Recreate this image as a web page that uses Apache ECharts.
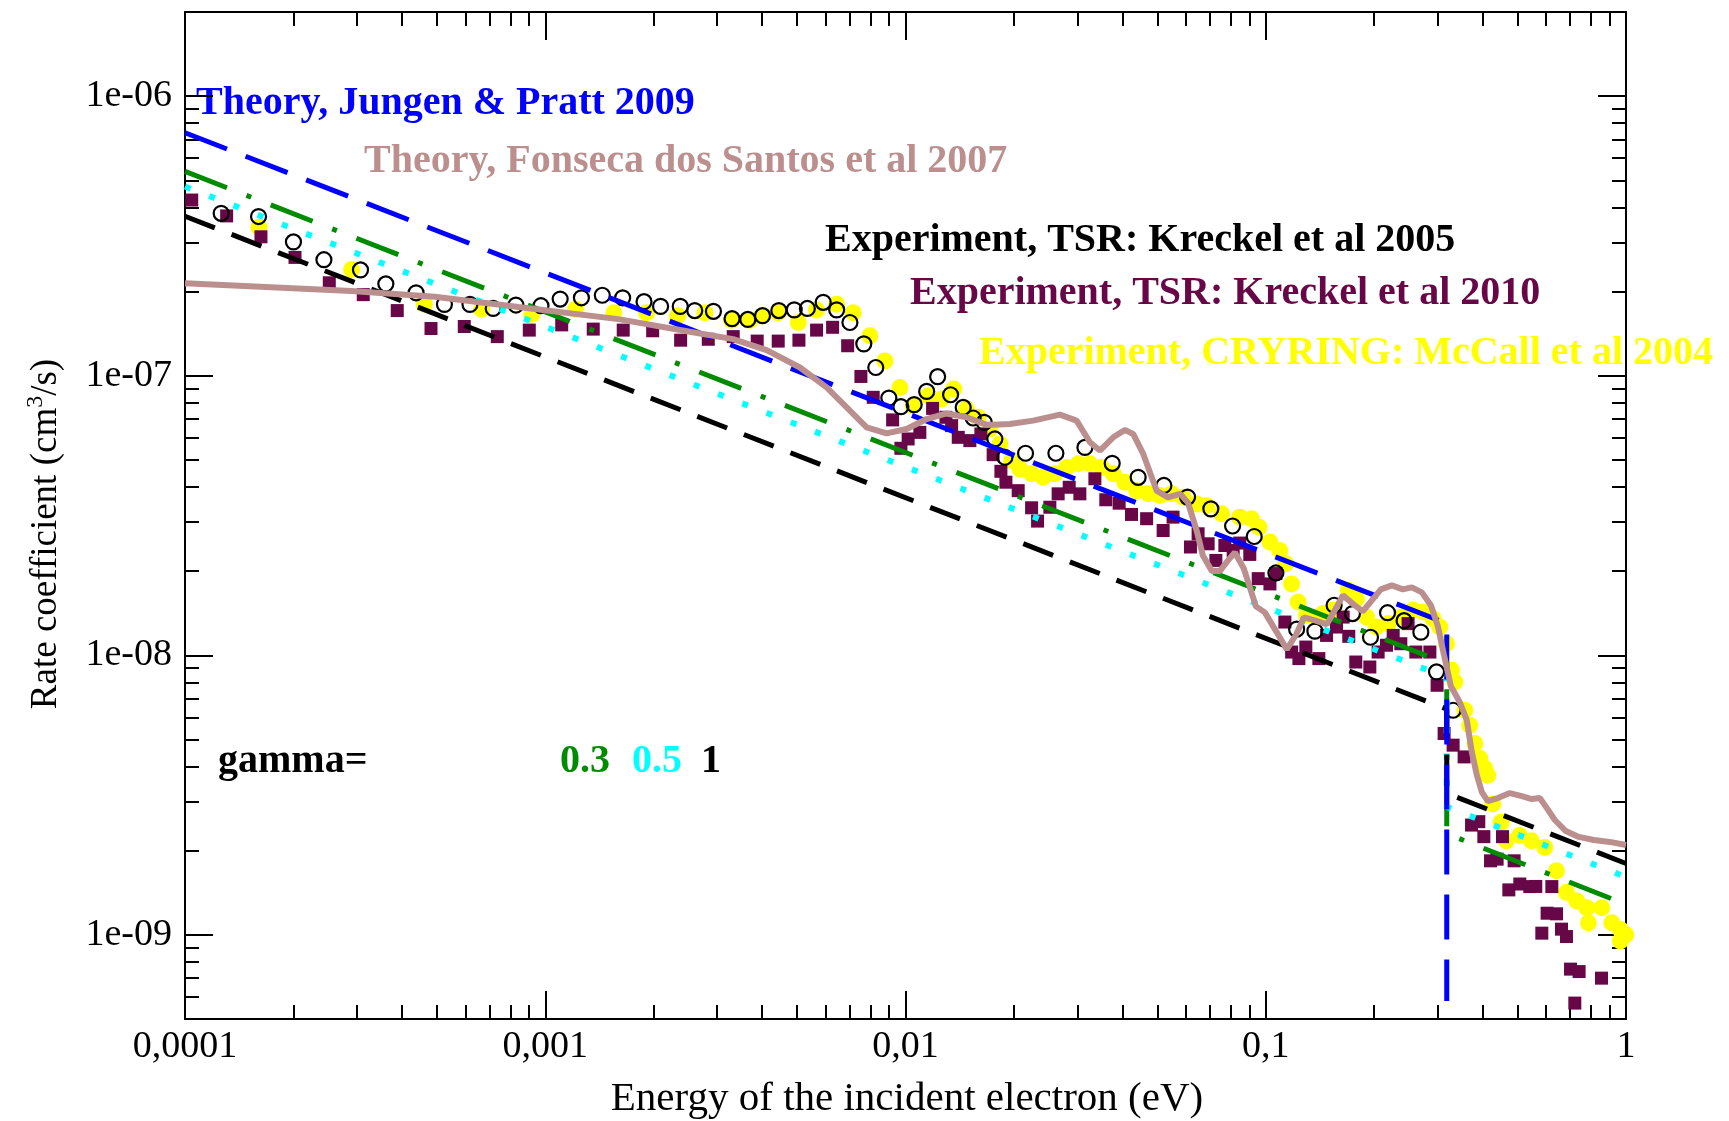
<!DOCTYPE html>
<html>
<head>
<meta charset="utf-8">
<script src="https://cdn.jsdelivr.net/npm/echarts@6/dist/echarts.min.js"></script>
<style>
html,body{margin:0;padding:0;background:#fff;}
#chart{width:1729px;height:1121px;}
</style>
</head>
<body>
<div id="chart"></div>
<script>
// ---------- axis ticks ----------
const xTickValues = [1e-4, 1e-3, 1e-2, 1e-1, 1];
const xTickLabels = ['0,0001', '0,001', '0,01', '0,1', '1'];
const xMinorTicks = [2e-4,3e-4,4e-4,5e-4,6e-4,7e-4,8e-4,9e-4,
  2e-3,3e-3,4e-3,5e-3,6e-3,7e-3,8e-3,9e-3,
  2e-2,3e-2,4e-2,5e-2,6e-2,7e-2,8e-2,9e-2,
  0.2,0.3,0.4,0.5,0.6,0.7,0.8,0.9];
const yTickValues = [1e-9, 1e-8, 1e-7, 1e-6];
const yTickLabels = ['1e-09', '1e-08', '1e-07', '1e-06'];
const yMinorTicks = [6e-10,7e-10,8e-10,9e-10,
  2e-9,3e-9,4e-9,5e-9,6e-9,7e-9,8e-9,9e-9,
  2e-8,3e-8,4e-8,5e-8,6e-8,7e-8,8e-8,9e-8,
  2e-7,3e-7,4e-7,5e-7,6e-7,7e-7,8e-7,9e-7];
const xRange = [1e-4, 1];
const yRange = [5e-10, 2e-6];

// ---------- theory lines ----------
const jungenPratt = [[1e-4,7.40e-7],[0.318,1.30e-8],[0.318,5.8e-10]];
const gamma03 = [[1e-4,5.38e-7],[0.318,9.34e-9],[0.318,2.30e-9],[1,1.285e-9]];
const gamma05 = [[1e-4,4.75e-7],[0.318,8.33e-9],[0.318,2.87e-9],[1,1.61e-9]];
const gamma1  = [[1e-4,3.72e-7],[0.318,6.42e-9],[0.318,3.21e-9],[1,1.80e-9]];

const fonseca2007 = [[1e-4,2.14e-7],[2.90e-4,2.01e-7],[4.94e-4,1.915e-7],[8.42e-4,1.76e-7],[1.594e-3,1.594e-7],
 [2.688e-3,1.416e-7],[3.325e-3,1.352e-7],[4.116e-3,1.235e-7],[5.093e-3,1.07e-7],[6.04e-3,9.08e-8],
 [7.01e-3,7.50e-8],[7.80e-3,6.54e-8],[8.86e-3,6.22e-8],[1.007e-2,6.45e-8],[1.145e-2,7.0e-8],
 [1.30e-2,7.33e-8],[1.477e-2,7.10e-8],[1.68e-2,6.67e-8],[1.949e-2,6.72e-8],[2.262e-2,6.91e-8],
 [2.683e-2,7.26e-8],[2.985e-2,6.91e-8],[3.25e-2,5.78e-8],[3.464e-2,5.40e-8],[3.772e-2,6.02e-8],
 [4.063e-2,6.40e-8],[4.285e-2,6.19e-8],[4.57e-2,5.25e-8],[4.98e-2,3.88e-8],[5.35e-2,3.67e-8],
 [5.78e-2,3.78e-8],[6.08e-2,3.52e-8],[6.43e-2,2.795e-8],[6.69e-2,2.276e-8],[7.09e-2,2.0e-8],
 [7.46e-2,2.0e-8],[7.85e-2,2.184e-8],[8.21e-2,2.33e-8],[8.69e-2,2.045e-8],[9.09e-2,1.707e-8],
 [9.39e-2,1.496e-8],[9.94e-2,1.424e-8],[0.1073,1.208e-8],[0.1144,1.05e-8],[0.1216,1.189e-8],
 [0.1276,1.367e-8],[0.1369,1.334e-8],[0.1477,1.29e-8],[0.1555,1.448e-8],[0.1637,1.638e-8],
 [0.1767,1.509e-8],[0.186,1.436e-8],[0.197,1.572e-8],[0.2087,1.72e-8],[0.2239,1.778e-8],
 [0.2401,1.72e-8],[0.2544,1.749e-8],[0.2712,1.679e-8],[0.2873,1.509e-8],[0.3005,1.27e-8],
 [0.3122,1.008e-8],[0.3265,7.75e-9],[0.3457,6.79e-9],[0.3614,5.86e-9],[0.3733,4.50e-9],
 [0.3854,3.73e-9],[0.398,3.24e-9],[0.4133,3.01e-9],[0.4407,3.085e-9],[0.4759,3.215e-9],
 [0.5136,3.135e-9],[0.5477,3.06e-9],[0.5765,3.085e-9],[0.603,2.84e-9],[0.6345,2.575e-9],
 [0.6807,2.35e-9],[0.7396,2.24e-9],[0.8139,2.184e-9],[0.9016,2.15e-9],[1.0,2.096e-9]];

// ---------- experiments ----------
const kreckel2005 = [[1.26e-4,3.81e-7],[1.60e-4,3.71e-7],[2.00e-4,3.01e-7],[2.43e-4,2.60e-7],[3.07e-4,2.39e-7],
 [3.61e-4,2.13e-7],[4.38e-4,1.98e-7],[5.25e-4,1.80e-7],[6.18e-4,1.80e-7],[7.17e-4,1.74e-7],
 [8.29e-4,1.79e-7],[9.73e-4,1.78e-7],[1.10e-3,1.88e-7],[1.26e-3,1.90e-7],[1.44e-3,1.94e-7],
 [1.64e-3,1.90e-7],[1.88e-3,1.84e-7],[2.09e-3,1.77e-7],[2.37e-3,1.77e-7],[2.60e-3,1.71e-7],
 [2.93e-3,1.70e-7],[3.30e-3,1.60e-7],[3.65e-3,1.59e-7],[4.01e-3,1.64e-7],[4.45e-3,1.71e-7],
 [4.91e-3,1.72e-7],[5.34e-3,1.74e-7],[5.91e-3,1.83e-7],[6.44e-3,1.72e-7],[7.01e-3,1.55e-7],
 [7.66e-3,1.30e-7],[8.27e-3,1.07e-7],[8.99e-3,8.32e-8],[9.71e-3,7.75e-8],[1.057e-2,7.88e-8],
 [1.145e-2,8.79e-8],[1.228e-2,9.92e-8],[1.334e-2,8.55e-8],[1.446e-2,7.70e-8],[1.541e-2,7.06e-8],
 [1.654e-2,6.81e-8],[1.77e-2,5.94e-8],[1.888e-2,5.11e-8],[2.154e-2,5.28e-8],[2.615e-2,5.28e-8],
 [3.148e-2,5.54e-8],[3.748e-2,4.86e-8],[4.424e-2,4.33e-8],[5.215e-2,4.05e-8],[6.067e-2,3.68e-8],
 [7.04e-2,3.34e-8],[8.09e-2,2.90e-8],[9.29e-2,2.66e-8],[0.1067,1.97e-8],[0.1218,1.24e-8],
 [0.1369,1.22e-8],[0.1548,1.51e-8],[0.1741,1.41e-8],[0.1953,1.16e-8],[0.2178,1.42e-8],
 [0.2421,1.33e-8],[0.2695,1.21e-8],[0.2979,8.72e-9],[0.3312,6.36e-9]];

const kreckel2010 = [[1.044e-4,4.25e-7],[1.305e-4,3.73e-7],[1.625e-4,3.14e-7],[2.02e-4,2.65e-7],[2.515e-4,2.15e-7],
 [3.125e-4,1.95e-7],[3.883e-4,1.71e-7],[4.818e-4,1.475e-7],[5.96e-4,1.50e-7],[7.36e-4,1.38e-7],
 [9.03e-4,1.456e-7],[1.111e-3,1.52e-7],[1.359e-3,1.468e-7],[1.646e-3,1.456e-7],[1.987e-3,1.448e-7],
 [2.376e-3,1.34e-7],[2.835e-3,1.35e-7],[3.325e-3,1.38e-7],[3.876e-3,1.33e-7],[4.433e-3,1.33e-7],
 [5.06e-3,1.34e-7],[5.665e-3,1.456e-7],[6.276e-3,1.49e-7],[6.909e-3,1.28e-7],[7.52e-3,9.94e-8],
 [8.135e-3,8.37e-8],[9.21e-3,6.95e-8],[9.71e-3,5.50e-8],[1.017e-2,5.94e-8],[1.096e-2,6.27e-8],
 [1.189e-2,7.64e-8],[1.295e-2,7.10e-8],[1.343e-2,6.63e-8],[1.401e-2,6.02e-8],[1.509e-2,5.86e-8],
 [1.619e-2,6.19e-8],[1.751e-2,5.22e-8],[1.84e-2,4.55e-8],[1.90e-2,4.16e-8],[2.055e-2,3.88e-8],
 [2.239e-2,3.37e-8],[2.326e-2,3.02e-8],[2.516e-2,3.385e-8],[2.653e-2,3.78e-8],[2.847e-2,3.99e-8],
 [3.048e-2,3.78e-8],[3.355e-2,4.28e-8],[3.598e-2,3.60e-8],[3.918e-2,3.50e-8],[4.24e-2,3.19e-8],
 [4.67e-2,3.08e-8],[5.19e-2,2.795e-8],[5.53e-2,3.12e-8],[6.18e-2,2.44e-8],[6.49e-2,2.72e-8],
 [6.92e-2,2.505e-8],[7.27e-2,2.184e-8],[7.70e-2,2.47e-8],[8.12e-2,2.37e-8],[8.47e-2,2.52e-8],
 [9.03e-2,2.295e-8],[9.53e-2,1.88e-8],[0.1027,1.80e-8],[0.1067,1.96e-8],[0.113,1.315e-8],
 [0.118,1.027e-8],[0.1236,9.73e-9],[0.1292,1.07e-8],[0.1404,9.73e-9],[0.1475,1.178e-8],
 [0.1572,1.262e-8],[0.164,1.37e-8],[0.170,1.169e-8],[0.1778,9.46e-9],[0.1945,9.08e-9],
 [0.2051,1.027e-8],[0.2164,1.086e-8],[0.2258,1.178e-8],[0.2371,1.10e-8],[0.2484,1.298e-8],
 [0.261,1.027e-8],[0.2855,1.027e-8],[0.299,7.81e-9],[0.3127,5.25e-9],[0.3312,4.77e-9],
 [0.3553,4.33e-9],[0.3726,2.47e-9],[0.3903,2.54e-9],[0.4031,2.245e-9],[0.4542,2.245e-9],
 [0.4207,1.84e-9],[0.4388,1.865e-9],[0.4892,1.84e-9],[0.4729,1.448e-9],[0.5073,1.52e-9],
 [0.5408,1.488e-9],[0.5618,1.49e-9],[0.6225,1.488e-9],[0.604,1.195e-9],[0.6415,1.189e-9],
 [0.5839,1.014e-9],[0.6622,1.048e-9],[0.6835,9.86e-10],[0.7015,7.54e-10],[0.741,7.39e-10],
 [0.855,7.0e-10],[0.721,5.70e-10]];

const mccall2004 = [[1.605e-4,3.40e-7],[2.90e-4,2.40e-7],[4.615e-4,1.80e-7],[6.66e-4,1.73e-7],[9.17e-4,1.66e-7],
 [1.214e-3,1.73e-7],[1.551e-3,1.68e-7],[1.911e-3,1.68e-7],[2.33e-3,1.64e-7],[2.775e-3,1.68e-7],
 [3.29e-3,1.58e-7],[3.70e-3,1.58e-7],[4.013e-3,1.64e-7],[4.433e-3,1.68e-7],[5.04e-3,1.55e-7],
 [5.665e-3,1.717e-7],[6.44e-3,1.80e-7],[7.16e-3,1.68e-7],[7.965e-3,1.39e-7],[8.77e-3,1.13e-7],
 [9.65e-3,9.08e-8],[1.05e-2,7.81e-8],[1.156e-2,8.48e-8],[1.26e-2,8.25e-8],[1.362e-2,8.96e-8],
 [1.477e-2,7.60e-8],[1.591e-2,7.10e-8],[1.715e-2,6.45e-8],[1.828e-2,5.70e-8],[1.97e-2,4.97e-8],
 [2.078e-2,4.64e-8],[2.239e-2,4.46e-8],[2.411e-2,4.33e-8],[2.598e-2,4.46e-8],[2.80e-2,4.70e-8],
 [3.016e-2,4.84e-8],[3.25e-2,4.84e-8],[3.502e-2,4.70e-8],[3.772e-2,4.46e-8],[4.063e-2,4.16e-8],
 [4.38e-2,3.88e-8],[4.72e-2,3.78e-8],[5.08e-2,3.73e-8],[5.48e-2,3.78e-8],[5.90e-2,3.675e-8],
 [6.43e-2,3.48e-8],[6.85e-2,3.43e-8],[7.54e-2,3.21e-8],[8.47e-2,3.12e-8],[9.13e-2,3.08e-8],
 [9.58e-2,2.87e-8],[0.1027,2.54e-8],[0.1094,2.37e-8],[0.1137,2.125e-8],[0.118,1.80e-8],
 [0.123,1.55e-8],[0.1298,1.39e-8],[0.1384,1.37e-8],[0.1443,1.41e-8],[0.1538,1.448e-8],
 [0.1693,1.707e-8],[0.1786,1.594e-8],[0.1905,1.37e-8],[0.2030,1.262e-8],[0.2187,1.298e-8],
 [0.2382,1.37e-8],[0.2566,1.448e-8],[0.2735,1.427e-8],[0.2915,1.352e-8],[0.3042,1.262e-8],
 [0.3175,1.10e-8],[0.3279,8.84e-9],[0.3348,8.03e-9],[0.3569,6.36e-9],[0.3685,5.62e-9],
 [0.3805,4.84e-9],[0.3928,4.28e-9],[0.4055,3.94e-9],[0.4133,3.72e-9],[0.4267,2.94e-9],
 [0.4500,2.53e-9],[0.4650,2.17e-9],[0.5067,2.265e-9],[0.5460,2.17e-9],[0.5952,2.055e-9],
 [0.6415,1.694e-9],[0.684,1.416e-9],[0.7296,1.322e-9],[0.7779,1.25e-9],[0.7864,1.104e-9],
 [0.8565,1.25e-9],[0.9133,1.104e-9],[0.9643,1.045e-9],[0.9643,9.50e-10],[0.9986,1.0e-9]];

// ---------- chart ----------
const FONT = '"Liberation Serif", "Times New Roman", serif';
function nearestLabel(values, labels, v) {
  for (let i = 0; i < values.length; i++) {
    if (Math.abs(Math.log10(values[i]) - Math.log10(v)) < 1e-6) return labels[i];
  }
  return '';
}
function tickAxis(kind, position, ticks, len, showLine, labels) {
  const ax = {
    type: 'log', logBase: 10, position: position,
    min: kind === 'x' ? xRange[0] : yRange[0],
    max: kind === 'x' ? xRange[1] : yRange[1],
    axisLine: {show: showLine, onZero: false, lineStyle: {color: '#000', width: 2}},
    axisTick: {show: true, inside: true, length: len, customValues: ticks, lineStyle: {color: '#000', width: 2}},
    axisLabel: {show: false},
    splitLine: {show: false},
    minorTick: {show: false}, minorSplitLine: {show: false}
  };
  if (labels) {
    ax.axisLabel = {
      show: true, customValues: ticks, color: '#000', fontFamily: FONT, fontSize: 38,
      margin: kind === 'x' ? 9 : 13,
      formatter: (v) => nearestLabel(ticks, labels, v)
    };
  }
  return ax;
}

const chart = echarts.init(document.getElementById('chart'), null, {renderer: 'canvas'});
const lineBase = {type: 'line', xAxisIndex: 0, yAxisIndex: 0, symbol: 'none', silent: true, animation: false, clip: true};
const boldText = (x, y, text, fill) => ({type: 'text', x: x, y: y,
  style: {text: text, fill: fill, fontFamily: FONT, fontWeight: 'bold', fontSize: 40, align: 'left', verticalAlign: 'middle'}});

const option = {
  backgroundColor: '#fff',
  animation: false,
  grid: {left: 185, right: 103, top: 12, bottom: 102, containLabel: false},
  xAxis: [
    tickAxis('x', 'bottom', xTickValues, 28, true, xTickLabels),
    tickAxis('x', 'bottom', xMinorTicks, 14, false, null),
    tickAxis('x', 'top', xTickValues, 28, true, null),
    tickAxis('x', 'top', xMinorTicks, 14, false, null)
  ],
  yAxis: [
    tickAxis('y', 'left', yTickValues, 28, true, yTickLabels),
    tickAxis('y', 'left', yMinorTicks, 14, false, null),
    tickAxis('y', 'right', yTickValues, 28, true, null),
    tickAxis('y', 'right', yMinorTicks, 14, false, null)
  ],
  series: [
    {type: 'scatter', name: 'McCall 2004', data: mccall2004, symbol: 'circle', symbolSize: 17, clip: false,
     itemStyle: {color: '#ffff00', opacity: 1}, silent: true, animation: false},
    Object.assign({}, lineBase, {name: 'gamma 0.3', data: gamma03,
     lineStyle: {color: '#008b00', width: 5, type: [45, 21, 5, 21], cap: 'butt'}}),
    Object.assign({}, lineBase, {name: 'gamma 0.5', data: gamma05,
     lineStyle: {color: '#00ffff', width: 6, type: [6, 20], cap: 'butt'}}),
    Object.assign({}, lineBase, {name: 'gamma 1', data: gamma1,
     lineStyle: {color: '#000000', width: 5, type: [32, 18], cap: 'butt'}}),
    Object.assign({}, lineBase, {name: 'Jungen & Pratt 2009', data: jungenPratt,
     lineStyle: {color: '#0000ff', width: 5, type: [45, 20], cap: 'butt'}}),
    {type: 'scatter', name: 'Kreckel 2010', data: kreckel2010, symbol: 'rect', symbolSize: 13, clip: false,
     itemStyle: {color: '#670748', opacity: 1}, silent: true, animation: false},
    Object.assign({}, lineBase, {name: 'Fonseca dos Santos 2007', data: fonseca2007,
     lineStyle: {color: '#bc8f8f', width: 6}}),
    {type: 'scatter', name: 'Kreckel 2005', data: kreckel2005, symbol: 'circle', symbolSize: 15, clip: false,
     itemStyle: {color: 'rgba(0,0,0,0)', borderColor: '#000', borderWidth: 2.2, opacity: 1}, silent: true, animation: false}
  ],
  graphic: [
    boldText(196, 104, 'Theory, Jungen & Pratt 2009', '#0000ff'),
    boldText(364, 162, 'Theory, Fonseca dos Santos et al 2007', '#bc8f8f'),
    boldText(825, 241, 'Experiment, TSR: Kreckel et al 2005', '#000000'),
    boldText(910, 294, 'Experiment, TSR: Kreckel et al 2010', '#670748'),
    boldText(979, 354, 'Experiment, CRYRING: McCall et al 2004', '#ffff00'),
    boldText(218, 762, 'gamma=', '#000000'),
    boldText(560, 762, '0.3', '#008b00'),
    boldText(632, 762, '0.5', '#00ffff'),
    boldText(701, 762, '1', '#000000'),
    {type: 'text', x: 907, y: 1099, style: {text: 'Energy of the incident electron (eV)', fill: '#000', fontFamily: FONT, fontSize: 41, align: 'center', verticalAlign: 'middle'}},
    {type: 'text', x: 46, y: 534, rotation: Math.PI / 2,
     style: {text: '{m|Rate coefficient (cm}{s|3}{m|/s)}', fill: '#000', align: 'center', verticalAlign: 'middle',
       rich: {m: {fontFamily: FONT, fontSize: 37, lineHeight: 44, fill: '#000'},
              s: {fontFamily: FONT, fontSize: 24, lineHeight: 44, verticalAlign: 'top', fill: '#000'}}}}
  ]
};
chart.setOption(option);
</script>
</body>
</html>
